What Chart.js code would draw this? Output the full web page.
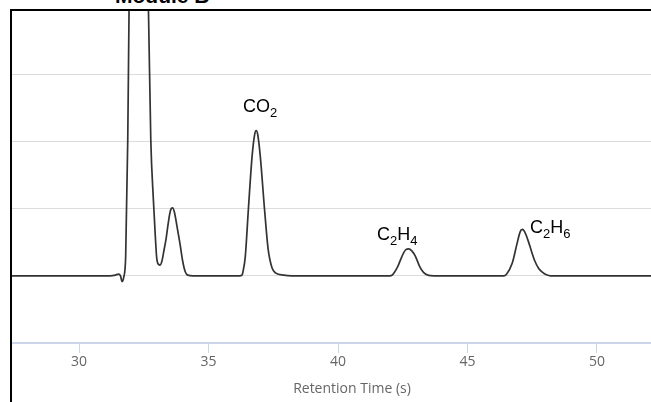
<!DOCTYPE html>
<html>
<head>
<meta charset="utf-8">
<script src="https://cdn.jsdelivr.net/npm/chart.js@4.4.0/dist/chart.umd.min.js"></script>
<style>
  html, body { margin: 0; padding: 0; background: #fff; overflow: hidden; width: 651px; height: 402px; }
  #titulo { position: absolute; left: 115px; top: -15px; font: bold 21px "Liberation Sans", Arial, sans-serif; line-height: 1; color: #000; white-space: nowrap; }
  #moldura { position: absolute; left: 10px; top: 9px; width: 700px; height: 400px; border-left: 2px solid #000; border-top: 2px solid #000; overflow: hidden; }
</style>
</head>
<body>
<div id="titulo">Module B</div>
<div id="moldura"><canvas id="grafico" width="680" height="391"></canvas></div>
<script>
// tempos de retencao (s) e sinal do detector
const tempo = [
  27.4, 31.2, 31.40, 31.52, 31.60, 31.66, 31.72, 31.80, 31.88, 31.93,
  32.00, 32.10, 32.20, 32.35, 32.50, 32.68, 32.77, 32.87, 32.95, 33.00,
  33.07, 33.13, 33.20, 33.28, 33.36, 33.45, 33.53, 33.61, 33.68, 33.78,
  33.90, 34.00, 34.10, 34.20, 34.40,
  36.20, 36.29, 36.33, 36.42, 36.54, 36.68, 36.78, 36.84, 36.90, 37.00,
  37.16, 37.30, 37.45, 37.60, 37.90, 38.22,
  42.00, 42.09, 42.31, 42.47, 42.62, 42.73, 42.85, 42.99, 43.15, 43.30,
  43.50, 43.70,
  46.40, 46.50, 46.73, 46.92, 47.03, 47.11, 47.20, 47.37, 47.45, 47.60,
  47.75, 47.90, 48.05, 48.21, 53.7
];
const sinal = [
  0, 0, 0.01, 0.025, 0.0, -0.085, -0.03, 0.29, 2.02, 3.95,
  5.8, 8.2, 9.0, 8.5, 6.6, 3.95, 2.02, 1.13, 0.55, 0.26,
  0.17, 0.16, 0.22, 0.38, 0.55, 0.80, 0.97, 1.01, 0.95, 0.74,
  0.47, 0.22, 0.06, 0.01, 0,
  0, 0.01, 0.06, 0.29, 1.0, 1.77, 2.1, 2.16, 2.1, 1.77,
  1.0, 0.40, 0.12, 0.04, 0.01, 0,
  0, 0.01, 0.14, 0.29, 0.39, 0.40, 0.37, 0.29, 0.14, 0.05,
  0.005, 0,
  0, 0.02, 0.19, 0.49, 0.65, 0.69, 0.66, 0.49, 0.39, 0.22,
  0.11, 0.05, 0.015, 0, 0
];
const ticksX = [30, 35, 40, 45, 50];
const gradeY = [-1, 0, 1, 2, 3];

// rotulos dos picos: partes [texto, subscrito?] e posicao em coordenadas de dados
const nomesPicos = [
  [['CO', false], ['2', true]],
  [['C', false], ['2', true], ['H', false], ['4', true]],
  [['C', false], ['2', true], ['H', false], ['6', true]]
];
const posPicoX = [36.33, 41.51, 47.41];
const posPicoY = [2.44, 0.535, 0.634];

const pontos = tempo.map((t, i) => ({ x: t, y: sinal[i] }));

const rotulosPicos = {
  id: 'rotulosPicos',
  afterDatasetsDraw(chart) {
    const ctx = chart.ctx;
    const sx = chart.scales.x, sy = chart.scales.y;
    ctx.save();
    ctx.fillStyle = '#000';
    ctx.textBaseline = 'alphabetic';
    nomesPicos.forEach((partes, i) => {
      let x = sx.getPixelForValue(posPicoX[i]);
      const y = sy.getPixelForValue(posPicoY[i]);
      partes.forEach(p => {
        ctx.font = p[1] ? '13px "Liberation Sans", Arial' : '18px "Liberation Sans", Arial';
        ctx.fillText(p[0], x, p[1] ? y + 5 : y);
        x += ctx.measureText(p[0]).width;
      });
    });
    ctx.restore();
  }
};

const ctx = document.getElementById('grafico').getContext('2d');
const grafico = new Chart(ctx, {
  type: 'line',
  data: {
    datasets: [{
      data: pontos,
      borderColor: '#333',
      borderWidth: 1.7,
      pointRadius: 0,
      fill: false,
      cubicInterpolationMode: 'monotone'
    }]
  },
  options: {
    responsive: false,
    animation: false,
    layout: { padding: 0 },
    plugins: { legend: { display: false }, tooltip: { enabled: false } },
    scales: {
      x: {
        type: 'linear',
        min: 27.41,
        max: 53.67,
        afterBuildTicks: s => { s.ticks = ticksX.map(v => ({ value: v })); },
        afterFit: s => { s.height = 59; },
        grid: { drawOnChartArea: false, drawTicks: true, tickLength: 10, color: '#ccd6eb' },
        border: { color: '#ccd6eb', width: 2 },
        ticks: { color: '#666', padding: 1, font: { family: 'Open Sans', size: 14 } },
        title: {
          display: true,
          text: 'Retention Time (s)',
          color: '#666',
          font: { family: 'Open Sans', size: 14 },
          padding: { top: 0, bottom: 5 }
        }
      },
      y: {
        min: -1,
        max: 3.94,
        afterBuildTicks: s => { s.ticks = gradeY.map(v => ({ value: v })); },
        afterFit: s => { s.width = 0; },
        grid: { color: '#dcdcdc', drawTicks: false },
        border: { display: false },
        ticks: { display: false }
      }
    }
  },
  plugins: [rotulosPicos]
});
</script>
</body>
</html>
